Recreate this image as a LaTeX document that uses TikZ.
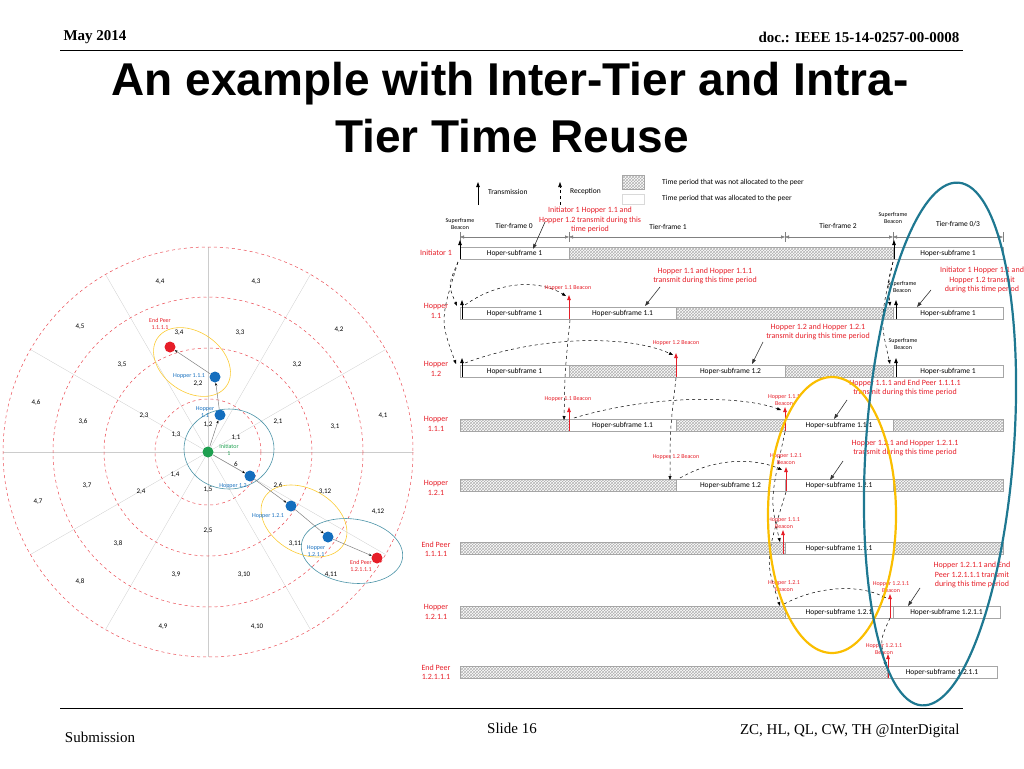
\documentclass[tikz,border=0pt]{standalone}
\usepackage{fontspec}
\setmainfont{Liberation Serif}
\newfontfamily\ar{Liberation Sans}
\newfontfamily\cb{Carlito}
\usetikzlibrary{arrows.meta,patterns,calc}
\definecolor{rd}{RGB}{230,30,40}
\definecolor{bl}{RGB}{20,110,190}
\definecolor{gr}{RGB}{30,160,80}
\definecolor{teal2}{RGB}{30,120,145}
\definecolor{yel}{RGB}{250,190,0}
\tikzset{x=1pt,y=-1pt,
 wseg/.style={draw=gray!70,fill=white},
 hseg/.style={draw=gray!70,pattern=crosshatch,pattern color=gray!60},
 lbl/.style={font=\cb\fontsize{7.5}{8}\selectfont,inner sep=0},
 rlbl/.style={font=\cb\fontsize{8}{9.5}\selectfont,text=rd,align=center,inner sep=0},
 slbl/.style={font=\cb\fontsize{6}{7}\selectfont,text=rd,align=center,inner sep=0},
 blk/.style={font=\cb\fontsize{6}{7}\selectfont,align=center,inner sep=0},
 ptxt/.style={font=\cb\fontsize{7}{7}\selectfont,inner sep=0},
 ring/.style={draw=rd!80,dashed,line width=0.5pt},
 spoke/.style={draw=gray!40,line width=0.3pt},
 dot/.style={circle,minimum size=11pt,inner sep=0},
 link/.style={draw=gray,line width=0.5pt,-{Stealth[length=3pt,black]}},
 tx/.style={-{Triangle[length=5pt,width=3.5pt]},line width=0.8pt},
 rx/.style={-{Triangle[length=5pt,width=3.5pt]},dashed,line width=0.6pt},
 dcurve/.style={dashed,line width=0.5pt,-{Triangle[length=4pt,width=3pt]}},
 note/.style={-{Triangle[length=5pt,width=3.5pt]},draw=black!80,line width=0.6pt}}
\begin{document}
\begin{tikzpicture}
\useasboundingbox (0,0) rectangle (1024,768);
% header / footer
\node[font=\bfseries\fontsize{15}{17}\selectfont,anchor=west] (hd1) at (60,37) {May 2014};
\node[font=\bfseries\fontsize{15}{17}\selectfont,anchor=east] (hd2) at (963,37) {doc.: IEEE 15-14-0257-00-0008};
\draw[line width=0.8pt] (60,50) -- (963,50);
\node[font=\ar\bfseries\fontsize{46}{50}\selectfont] (title1) at (510,84) {An example with Inter-Tier and Intra-};
\node[font=\ar\bfseries\fontsize{46}{50}\selectfont] (title2) at (512,136) {Tier Time Reuse};
\draw[line width=0.6pt] (60,708) -- (963,708);
\node[font=\fontsize{15}{17}\selectfont] (ft1) at (100,737) {Submission};
\node[font=\fontsize{15}{17}\selectfont] (ft2) at (512,728) {Slide 16};
\node[font=\fontsize{15}{17}\selectfont,anchor=east] (ft3) at (963,731) {ZC, HL, QL, CW, TH @InterDigital};

% ---------- polar diagram ----------
\coordinate (c) at (208,452);
\foreach \a in {0,30,60,90,120,150} \draw[spoke] ($(c)+(\a:205)$) -- ($(c)+(\a+180:205)$);
\foreach \r in {53,104,155,205} \draw[ring] (c) circle (\r);
\foreach \x/\y/\t in {160/282/{4,4},256/282/{4,3},80/327/{4,5},179/333/{3,4},240/333/{3,3},339/330/{4,2},122/365/{3,5},297/365/{3,2},198/384/{2,2},36/403/{4,6},83/422/{3,6},144/416/{2,3},278/422/{2,1},335/427/{3,1},383/416/{4,1},208/425/{1,2},176/435/{1,3},236/438/{1,1},236/464/6,175/475/{1,4},87/486/{3,7},141/492/{2,4},208/490/{1,5},278/486/{2,6},325/492/{3,12},38/502/{4,7},378/512/{4,12},208/531/{2,5},118/544/{3,8},295/544/{3,11},80/582/{4,8},176/575/{3,9},244/575/{3,10},331/575/{4,11},163/627/{4,9},257/627/{4,10}}
  \node[ptxt] at (\x,\y) {\t};
\draw[teal2!80,line width=0.6pt] (229,449) ellipse [x radius=45,y radius=40];
\draw[yel!80,line width=0.6pt,rotate around={-35:(192,362)}] (192,362) ellipse [x radius=42,y radius=30];
\draw[yel!80,line width=0.6pt,rotate around={-30:(304,521)}] (304,521) ellipse [x radius=46,y radius=32];
\draw[teal2!80,line width=0.6pt,rotate around={-8:(352,551)}] (352,551) ellipse [x radius=51,y radius=32];
\node[dot,fill=gr] (ini) at (208,452) {};
\node[dot,fill=bl] (h11) at (220,415) {};
\node[dot,fill=bl] (h111) at (215,377) {};
\node[dot,fill=rd] (e1) at (170,347) {};
\node[dot,fill=bl] (h12) at (250,476) {};
\node[dot,fill=bl] (h121) at (291,506) {};
\node[dot,fill=bl] (h1211) at (328,537) {};
\node[dot,fill=rd] (e2) at (377,558) {};
\draw[link] (ini) -- (h11); \draw[link] (h11) -- (h111); \draw[link] (h111) -- (e1);
\draw[link] (ini) -- (h12); \draw[link] (h12) -- (h121); \draw[link] (h121) -- (h1211); \draw[link] (h1211) -- (e2);
\node[slbl] (le1) at (160,324) {End Peer\\1.1.1.1};
\node[blk,text=bl] (lh111) at (189,376) {Hopper 1.1.1};
\node[blk,text=bl] (lh11) at (205,412) {Hopper\\1.1};
\node[blk,text=gr] (lini) at (229,450) {Initiator\\1};
\node[blk,text=bl] (lh12) at (233,486) {Hopper 1.2};
\node[blk,text=bl] (lh121) at (268,516) {Hopper 1.2.1};
\node[blk,text=bl] (lh1211) at (316,551) {Hopper\\1.2.1.1};
\node[slbl] (le2) at (361,566) {End Peer\\1.2.1.1.1};

% ---------- legend ----------
\draw[tx] (478,205) -- (478,182);
\node[lbl,anchor=west] (lt) at (488,192) {Transmission};
\draw[rx] (560,205) -- (560,182);
\node[lbl,anchor=west] (lr) at (570,192) {Reception};
\draw[hseg] (622,175) rectangle (644,189);
\draw[wseg,draw=gray!30] (622,194) rectangle (644,204);
\node[lbl,anchor=west] (lg1) at (662,182) {Time period that was not allocated to the peer};
\node[lbl,anchor=west] (lg2) at (662,198) {Time period that was allocated to the peer};

% ---------- tier frames ----------
\foreach \a/\b in {460/569,569/785,785/893,893/1003}
  \draw[{Triangle[length=4pt,width=3pt]}-{Triangle[length=4pt,width=3pt]},gray,line width=0.4pt] (\a,237) -- (\b,237);
\foreach \xx in {460,569,785,893,1003} \draw[gray,line width=0.4pt] (\xx,232) -- (\xx,242);
\node[lbl] at (514,226) {Tier-frame 0};
\node[lbl] at (668,227) {Tier-frame 1};
\node[lbl] at (838,226) {Tier-frame 2};
\node[lbl] at (958,224) {Tier-frame 0/3};
\node[blk] at (460,224) {Superframe\\Beacon};
\node[blk] at (893,218) {Superframe\\Beacon};

% ---------- rows ----------
\foreach \a/\b/\y in {569/893/253, 676/893/313, 569/676/371, 785/893/371, 460/569/425, 676/785/425, 893/1003/425, 460/676/485, 893/1003/485, 460/785/548, 893/1003/548, 460/785/612, 460/887/672}
  \draw[hseg] (\a,\y-6) rectangle (\b,\y+6);
\foreach \a/\b/\y/\t in {460/569/253/1, 893/1003/253/1, 460/569/313/1, 569/676/313/1.1, 893/1003/313/1, 460/569/371/1, 676/785/371/1.2, 893/1003/371/1, 569/676/425/1.1, 785/893/425/1.1.1, 676/785/485/1.2, 785/893/485/1.2.1, 785/893/548/1.1.1, 785/893/612/1.2.1, 893/1000/612/1.2.1.1, 887/997/672/1.2.1.1}
  { \draw[wseg] (\a,\y-6) rectangle (\b,\y+6);
    \node[lbl] at ({(\a+\b)/2},\y) {Hoper-subframe \t}; }
\foreach \t/\y in {Initiator 1/253, Hopper\\1.1/311, Hopper\\1.2/369, Hopper\\1.1.1/424, Hopper\\1.2.1/488, End Peer\\1.1.1.1/549, Hopper\\1.2.1.1/612, End Peer\\1.2.1.1.1/672}
  \node[rlbl] at (436,\y) {\t};

% transmissions
\draw[tx] (460,259) -- (460,240);
\draw[tx] (894,259) -- (894,240);
\draw[tx] (462,319) -- (462,300);
\draw[tx] (896,319) -- (896,300);
\draw[tx] (462,377) -- (462,358);
\draw[tx] (896,377) -- (896,358);
\foreach \xx/\y in {569/313,676/371,569/425,785/425,786/485,783/548,890/612,888/672}
  \draw[tx,rd] (\xx,\y+6) -- (\xx,\y-18);
% receptions / dashed curves
\coordinate (i0) at (458,262);
\draw[dcurve] (i0) .. controls (448,285) .. (457,306);
\draw[dcurve] (i0) .. controls (440,320) .. (456,364);
\draw[dcurve] (465,305) .. controls (500,280) and (540,280) .. (566,296);
\draw[dcurve] (465,363) .. controls (540,335) and (630,335) .. (673,355);
\draw[dcurve] (570,320) .. controls (565,370) .. (564,420);
\draw[dcurve] (574,418) .. controls (650,395) and (740,395) .. (781,410);
\draw[dcurve] (676,378) .. controls (670,430) .. (670,480);
\draw[dcurve] (680,478) .. controls (720,455) and (760,460) .. (782,470);
\draw[dcurve] (785,432) .. controls (770,500) .. (780,542);
\draw[dcurve] (786,492) .. controls (765,560) .. (780,606);
\draw[dcurve] (784,604) .. controls (820,585) and (860,585) .. (886,598);
\draw[dcurve] (890,618) .. controls (880,640) .. (886,666);
\draw[dcurve] (893,262) .. controls (888,280) .. (890,306);
\draw[dcurve] (893,262) .. controls (880,320) .. (890,364);

% beacon labels
\foreach \t/\x/\y in {Hopper 1.1 Beacon/568/288, Hopper 1.2 Beacon/676/343, Hopper 1.1 Beacon/568/399, Hopper 1.1.1\\Beacon/784/400, Hopper 1.2 Beacon/676/457, Hopper 1.2.1\\Beacon/786/459, Hopper 1.1.1\\Beacon/784/523, Hopper 1.2.1\\Beacon/784/586, Hopper 1.2.1.1\\Beacon/891/587, Hopper 1.2.1.1\\Beacon/884/649}
  \node[slbl] at (\x,\y) {\t};
\node[blk] at (902,287) {Superframe\\Beacon};
\node[blk] at (903,344) {Superframe\\Beacon};

% annotations
\node[rlbl] (n1) at (590,220) {Initiator 1 Hopper 1.1 and\\Hopper 1.2 transmit during this\\time period};
\draw[note] (545,222) -- (533,249);
\node[rlbl] (n2) at (705,276) {Hopper 1.1 and Hopper 1.1.1\\transmit during this time period};
\draw[note] (660,287) -- (645,306);
\node[rlbl] (n3) at (982,280) {Initiator 1 Hopper 1.1 and\\Hopper 1.2 transmit\\during this time period};
\draw[note] (931,290) -- (917,307);
\node[rlbl] (n4) at (818,332) {Hopper 1.2 and Hopper 1.2.1\\transmit during this time period};
\draw[note] (763,342) -- (752,364);
\node[rlbl] (n5) at (905,388) {Hopper 1.1.1 and End Peer 1.1.1.1\\transmit during this time period};
\draw[note] (847,400) -- (834,419);
\node[rlbl] (n6) at (905,448) {Hopper 1.2.1 and Hopper 1.2.1.1\\transmit during this time period};
\draw[note] (843,461) -- (830,480);
\node[rlbl] (n7) at (972,575) {Hopper 1.2.1.1 and End\\Peer 1.2.1.1.1 transmit\\during this time period};
\draw[note] (920,588) -- (908,606);

% big ellipses
\draw[yel,line width=2.2pt] (832,515) ellipse [x radius=64,y radius=138];
\draw[teal2,line width=2.2pt,rotate around={-4:(940,444)}] (940,444) ellipse [x radius=74,y radius=262];
\end{tikzpicture}
\end{document}
